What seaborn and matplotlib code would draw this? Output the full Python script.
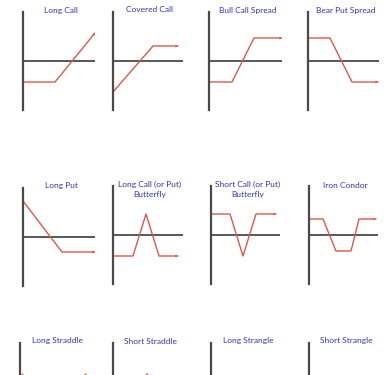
import seaborn as sns
import numpy as np
import matplotlib.pyplot as plt

# Strategy names, one per panel (row by row)
titles = ['Long Call', 'Covered Call', 'Bull Call Spread', 'Bear Put Spread',
          'Long Put', 'Long Call (or Put)\nButterfly', 'Short Call (or Put)\nButterfly', 'Iron Condor',
          'Long Straddle', 'Short Straddle', 'Long Strangle', 'Short Strangle']

# Payoff diagrams: underlying price vs profit (arbitrary units)
price = [
    [0, 32, 72],
    [0, 40, 65],
    [0, 23, 45, 73],
    [0, 22, 44, 70],
    [0, 39, 72],
    [0, 20, 33, 46, 65],
    [0, 19, 32, 45, 65],
    [0, 14, 27, 42, 50, 67],
    [2, 34, 66],
    [2, 34, 66],
    [2, 20, 46, 64],
    [2, 20, 46, 64],
]
payoff = [
    [-21, -21, 28],
    [-31, 15, 15],
    [-21, -21, 23, 23],
    [23, 23, -21, -21],
    [36, -15, -15],
    [-21, -21, 21, -21, -21],
    [21, 21, -21, 21, 21],
    [16, 16, -16, -16, 16, 16],
    [18, -24, 18],
    [-24, 18, -24],
    [14, -18, -18, 14],
    [-18, 14, 14, -18],
]

sns.set_style('white')
plt.rcParams['font.family'] = ['Lato', 'DejaVu Sans']

W, H = 389, 375
fig = plt.figure(figsize=(W / 100, H / 100), dpi=100)

# panel layout in pixels: left edge (vertical axis), width, top, height
lefts = [23, 113, 209, 308, 23, 113, 211, 309, 20, 113, 211, 309]
widths = [72, 70, 73, 71, 72, 70, 69, 69, 70, 70, 70, 70]
tops = [12] * 4 + [188, 186, 186, 186] + [343] * 4
height = 98
title_y = [10] * 4 + [185] * 4 + [341] * 4

axis_col = '#4a4a4a'
line_col = '#d65a4f'
title_col = '#3434b0'

for i in range(12):
    l, w, t = lefts[i], widths[i], tops[i]
    ax = fig.add_axes([l / W, 1 - (t + height) / H, w / W, height / H])
    ax.set_xlim(0, w)
    ax.set_ylim(-height / 2, height / 2)
    for s in ['top', 'right', 'bottom']:
        ax.spines[s].set_visible(False)
    ax.spines['left'].set_color(axis_col)
    ax.spines['left'].set_linewidth(1.6)
    ax.axhline(0, color=axis_col, lw=1.3)
    sns.lineplot(x=price[i], y=payoff[i], ax=ax, color=line_col, lw=1.0,
                 sort=False, estimator=None)
    ax.annotate('', xy=(price[i][-1], payoff[i][-1]),
                xytext=(price[i][-2], payoff[i][-2]),
                arrowprops=dict(arrowstyle='-|>', color=line_col, lw=0,
                                mutation_scale=5, shrinkA=0, shrinkB=0))
    ax.set_xticks([])
    ax.set_yticks([])
    ax.set_xlabel('')
    ax.set_ylabel('')
    ax.patch.set_alpha(0)
    txt = fig.text((l + w / 2 + 2) / W, 1 - title_y[i] / H, titles[i], ha='center', va='center',
                   fontsize=6, color=title_col, linespacing=1.55)
    # two-line titles hang from the same top line as the others
    if '\n' in titles[i]:
        txt.set_va('top')
        txt.set_y(1 - (title_y[i] - 4.5) / H)

fig.savefig('out.png', dpi=100)
